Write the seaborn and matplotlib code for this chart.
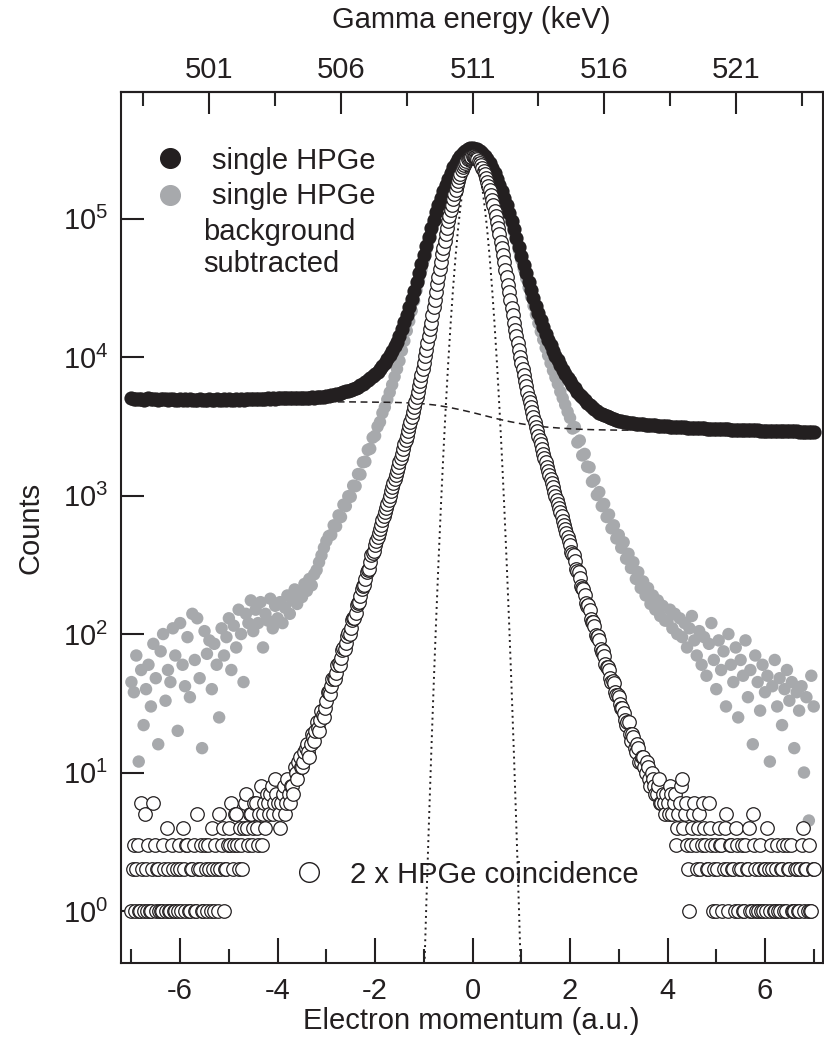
import numpy as np
import matplotlib
matplotlib.use("Agg")
import matplotlib.pyplot as plt
from matplotlib.ticker import FixedLocator, NullLocator, FixedFormatter
import seaborn as sns

# ---------------- data ----------------
P_START = -7.0      # first momentum bin (a.u.)
P_STEP = 0.05       # bin width (a.u.)

# single HPGe (black filled circles), counts per bin, p = -7.0 ... 7.0
single_counts = [
    5050, 4980, 5020, 4960, 5000, 4940, 4990, 5030, 4970, 4950,
    4990, 4930, 4970, 5010, 4950, 4900, 4960, 4980, 4920, 4940,
    4960, 4900, 4950, 4930, 4970, 4910, 4940, 4890, 4950, 4920,
    4900, 4940, 4960, 4910, 4930, 4950, 4890, 4920, 4960, 4930,
    4950, 4910, 4940, 4970, 4920, 4960, 4940, 4990, 4950, 4970,
    4990, 4960, 5000, 5020, 4980, 5010, 5030, 5000, 5040, 5020,
    5050, 5030, 5060, 5050, 5070, 5060, 5080, 5070, 5090, 5080,
    5100, 5090, 5110, 5100, 5120, 5110, 5130, 5150, 5170, 5190,
    5220, 5260, 5300, 5350, 5400, 5450, 5510, 5580, 5650, 5710,
    5780, 5880, 5990, 6120, 6260, 6420, 6600, 6800, 7020, 7270,
    7520, 7830, 8180, 8600, 9080, 9650, 10300, 11050, 11950, 12950,
    14100, 15850, 17800, 20200, 22900, 26300, 30200, 35100, 40700, 47300,
    55000, 63800, 74100, 85100, 97700, 110900, 125900, 141300, 158500, 175800,
    195000, 213800, 234400, 251200, 269200, 285100, 298500, 309000, 316200, 321400,
    323600, 321000, 316000, 308000, 298200, 285000, 268800, 252000, 233800, 214000,
    194200, 176000, 157600, 141000, 124900, 110000, 96600, 84000, 72850, 62700,
    53700, 46600, 40300, 35000, 30550, 26700, 23440, 20700, 18400, 16500,
    14790, 13400, 12160, 11100, 10230, 9480, 8710, 8130, 7590, 7080,
    6680, 6290, 5960, 5640, 5370, 5130, 4900, 4700, 4520, 4360,
    4220, 4090, 3980, 3890, 3800, 3740, 3670, 3610, 3550, 3510,
    3470, 3440, 3410, 3390, 3370, 3350, 3330, 3310, 3300, 3280,
    3270, 3255, 3240, 3230, 3220, 3210, 3200, 3190, 3180, 3170,
    3160, 3150, 3145, 3135, 3130, 3120, 3115, 3105, 3100, 3090,
    3085, 3080, 3070, 3065, 3060, 3055, 3050, 3045, 3040, 3035,
    3030, 3025, 3020, 3015, 3010, 3005, 3000, 3000, 2995, 2990,
    2985, 2980, 2975, 2970, 2965, 2960, 2960, 2955, 2950, 2950,
    2950, 2945, 2940, 2940, 2935, 2930, 2930, 2925, 2920, 2920,
    2915, 2910, 2910, 2905, 2900, 2900, 2895, 2890, 2890, 2885,
    2880,
]

# single HPGe, background subtracted (grey filled circles), same bins
bgsub_counts = [
    45, 38, 70, 12, 55, 22, 40, 60, 30, 85,
    48, 16, 75, 100, 33, 55, 45, 110, 70, 20,
    120, 60, 42, 95, 35, 140, 65, 130, 48, 15,
    105, 72, 90, 40, 85, 60, 25, 110, 70, 95,
    130, 55, 115, 80, 150, 100, 45, 140, 120, 175,
    105, 150, 120, 170, 80, 140, 125, 180, 110, 160,
    130, 170, 120, 155, 190, 140, 175, 210, 165, 200,
    185, 230, 205, 250, 225, 270, 290, 330, 370, 420,
    470, 510, 520, 610, 600, 720, 700, 860, 840, 990,
    980, 1180, 1170, 1430, 1420, 1740, 1760, 2140, 2180, 2620,
    2700, 3150, 3400, 3950, 4350, 4950, 5570, 6320, 7220, 8220,
    9400, 11140, 13100, 15500, 18200, 21600, 25550, 30400, 36100, 42700,
    50400, 59200, 69500, 80600, 93200, 106400, 121400, 136900, 154100, 171400,
    190650, 209500, 230100, 247000, 265000, 281000, 294400, 305000, 312100, 317300,
    319600, 317300, 312100, 305000, 294400, 281000, 265000, 247000, 230100, 209500,
    190650, 171400, 154100, 136900, 121400, 106400, 93200, 80600, 69500, 59200,
    50400, 43350, 37070, 31800, 27370, 23500, 20270, 17560, 15280, 13380,
    11660, 10280, 9050, 8000, 7140, 6400, 5630, 5060, 4530, 4030,
    3640, 3050, 3120, 2420, 2500, 1950, 2000, 1620, 1600, 1260,
    1300, 1010, 1060, 840, 870, 700, 730, 580, 610, 490,
    520, 420, 460, 350, 380, 300, 330, 250, 280, 215,
    240, 190, 215, 165, 190, 150, 175, 135, 160, 125,
    125, 150, 110, 140, 100, 130, 95, 120, 80, 110,
    135, 90, 70, 105, 60, 95, 50, 85, 120, 65,
    40, 90, 55, 75, 30, 100, 60, 45, 80, 25,
    65, 50, 90, 35, 55, 16, 70, 45, 28, 60,
    38, 50, 12, 42, 65, 30, 48, 22, 40, 55,
    33, 45, 15, 38, 28, 42, 10, 35, 4.5, 50,
    30,
]

# 2 x HPGe coincidence (open circles): bins p = -7.0 ... 7.0
coinc_counts = [
    1, 3, 2, 1, 6, 1, 2, 3, 1, 6,
    1, 2, 1, 3, 1, 2, 1, 2, 1, 1,
    2, 4, 1, 3, 1, 2, 1, 5, 2, 1,
    3, 1, 2, 4, 1, 2, 5, 3, 1, 2,
    4, 6, 3, 5, 2, 3, 4, 7, 3, 5,
    4, 6, 3, 8, 5, 4, 6, 7, 5, 9,
    6, 4, 7, 5, 9, 6, 8, 11, 9, 13,
    11, 14, 16, 13, 19, 17, 23, 20, 28, 25,
    33, 38, 42, 48, 52, 62, 67, 79, 86, 101,
    110, 130, 143, 168, 188, 221, 250, 290, 330, 383,
    437, 501, 575, 661, 759, 871, 1000, 1148, 1318, 1514,
    1738, 1995, 2344, 2692, 3162, 3715, 4365, 5129, 6166, 7413,
    9120, 11220, 14130, 17780, 22910, 29510, 38020, 48980, 61660, 77620,
    95500, 114800, 138000, 162200, 186200, 211300, 234400, 254100, 269200, 278600,
    281800, 278000, 268500, 253000, 233000, 210000, 185000, 161000, 137000, 114000,
    95000, 77000, 61500, 48500, 37800, 29300, 22800, 17700, 14100, 11200,
    9100, 7400, 6150, 5100, 4350, 3700, 3150, 2690, 2340, 1990,
    1740, 1510, 1320, 1150, 1000, 870, 760, 660, 575, 500,
    437, 380, 335, 285, 255, 215, 192, 160, 148, 122,
    114, 96, 90, 74, 70, 58, 55, 45, 44, 36,
    35, 29, 27, 22, 23, 17, 18, 14, 15, 12,
    13, 10, 11, 8, 9, 7, 8, 6, 7, 5,
    6, 8, 5, 7, 4, 6, 9, 5, 3, 1,
    4, 6, 2, 5, 3, 4, 2, 6, 3, 2,
    1, 4, 3, 2, 5, 1, 3, 2, 4, 1,
    2, 1, 3, 2, 1, 5, 2, 1, 3, 1,
    2, 4, 1, 2, 1, 3, 1, 2, 1, 3,
    2, 1, 1, 2, 1, 3, 1, 2, 3, 1,
    2,
]

# coincidence, the bins in between: p = -6.975 ... 6.975
coinc_mid_counts = [
    2, 1, 3, 1, 2, 5, 1, 1, 2, 3,
    2, 1, 1, 2, 4, 1, 3, 1, 2, 3,
    1, 2, 3, 1, 2, 3, 1, 2, 3, 1,
    2, 3, 1, 2, 3, 1, 2, 4, 2, 3,
    3, 2, 5, 3, 4, 2, 6, 4, 5, 3,
    6, 4, 5, 3, 6, 7, 5, 8, 6, 7,
    5, 6, 8, 6, 7, 8, 7, 10, 12, 11,
    12, 15, 14, 16, 18, 20, 21, 24, 26, 29,
    38, 37, 47, 47, 60, 60, 77, 78, 97, 100,
    126, 130, 162, 170, 213, 225, 282, 296, 370, 395,
    468, 537, 617, 708, 813, 933, 1072, 1230, 1413, 1622,
    1862, 2163, 2512, 2917, 3428, 4027, 4732, 5624, 6761, 8222,
    10120, 12590, 15850, 20180, 26000, 33500, 43150, 55260, 69180, 86100,
    104700, 125900, 149600, 174000, 198400, 222800, 244300, 261600, 274000, 280500,
    280500, 273500, 261000, 243000, 221500, 197500, 173000, 149000, 125000, 104000,
    85500, 68400, 54600, 42800, 33300, 25800, 20100, 15800, 12600, 10100,
    8200, 6750, 5600, 4710, 4010, 3410, 2910, 2510, 2160, 1860,
    1620, 1410, 1230, 1070, 933, 813, 708, 616, 536, 468,
    390, 372, 295, 281, 222, 212, 167, 161, 128, 123,
    99, 97, 78, 75, 61, 58, 48, 46, 38, 36,
    31, 29, 24, 23, 19, 19, 15, 16, 12, 13,
    11, 12, 9, 10, 8, 7, 9, 6, 6, 7,
    5, 7, 6, 3, 5, 8, 4, 6, 2, 3,
    5, 3, 4, 2, 6, 3, 2, 4, 1, 3,
    2, 3, 1, 4, 2, 3, 2, 1, 3, 2,
    3, 1, 2, 4, 1, 3, 1, 2, 1, 2,
    1, 2, 3, 1, 2, 1, 2, 3, 1, 2,
    3, 1, 2, 1, 2, 4, 2, 1, 1, 2,
]

# background estimate (dashed line)
bg_momentum = [-7.0, -6.75, -6.5, -6.25, -6.0, -5.75, -5.5, -5.25, -5.0, -4.75,
               -4.5, -4.25, -4.0, -3.75, -3.5, -3.25, -3.0, -2.75, -2.5, -2.25,
               -2.0, -1.75, -1.5, -1.25, -1.0, -0.75, -0.5, -0.25, 0.0, 0.25,
               0.5, 0.75, 1.0, 1.25, 1.5, 1.75, 2.0, 2.25, 2.5, 2.75,
               3.0, 3.25, 3.5, 3.75, 4.0, 4.25, 4.5, 4.75, 5.0, 5.25,
               5.5, 5.75, 6.0, 6.25, 6.5, 6.75, 7.0]
bg_counts = [4820, 4810, 4810, 4800, 4800, 4790, 4790, 4780, 4780, 4780,
             4770, 4770, 4770, 4760, 4760, 4760, 4750, 4750, 4750, 4740,
             4730, 4720, 4700, 4660, 4600, 4500, 4350, 4170, 3980, 3780,
             3590, 3430, 3300, 3200, 3130, 3080, 3040, 3010, 2990, 2980,
             2970, 2970, 2960, 2950, 2950, 2940, 2930, 2930, 2920, 2910,
             2900, 2900, 2890, 2880, 2870, 2860, 2850]

# detector resolution (dotted line)
res_momentum = [-1.05, -1.0, -0.95, -0.9, -0.85, -0.8, -0.75, -0.7, -0.65, -0.6,
                -0.55, -0.5, -0.45, -0.4, -0.35, -0.3, -0.25, -0.2, -0.15, -0.1,
                -0.05, 0.0, 0.05, 0.1, 0.15, 0.2, 0.25, 0.3, 0.35, 0.4,
                0.45, 0.5, 0.55, 0.6, 0.65, 0.7, 0.75, 0.8, 0.85, 0.9,
                0.95, 1.0, 1.05]
res_counts = [0.068, 0.28, 1.09, 3.9, 13.1, 41, 120, 327, 834, 1977,
              4390, 9080, 17500, 31480, 52970, 82990, 121300, 166000, 211300, 251200,
              278600, 288400, 278600, 251200, 211300, 166000, 121300, 82990, 52970, 31480,
              17500, 9080, 4390, 1977, 834, 327, 120, 41, 13.1, 3.9,
              1.09, 0.28, 0.068]

x_major_ticks = [-6, -4, -2, 0, 2, 4, 6]
x_minor_ticks = [-7, -5, -3, -1, 1, 3, 5, 7]
y_major_ticks = [1, 10, 100, 1000, 10000, 100000]
energy_major_ticks = [501, 506, 511, 516, 521]
energy_minor_ticks = [498.5, 503.5, 508.5, 513.5, 518.5, 523.5]
E0_KEV = 511.0
KEV_PER_AU = 1.85

legend_single = "single HPGe"
legend_bgsub = ["single HPGe", "background", "subtracted"]
legend_coinc = "2 x HPGe coincidence"


def grid(values, start=P_START):
    return np.round(start + P_STEP * np.arange(len(values)), 3)


def to_nan(values):
    a = np.asarray(values, dtype=float)
    a[a <= 0] = np.nan
    return a


coinc_p = np.concatenate([grid(coinc_counts), grid(coinc_mid_counts, P_START + P_STEP / 2)])
coinc_y = np.concatenate([to_nan(coinc_counts), to_nan(coinc_mid_counts)])
order = np.argsort(coinc_p, kind="stable")
coinc_p, coinc_y = coinc_p[order], coinc_y[order]

# ---------------- style ----------------
sns.set_style("ticks")
plt.rcParams["font.family"] = ["Liberation Sans", "DejaVu Sans"]
plt.rcParams["axes.unicode_minus"] = False
plt.rcParams["mathtext.default"] = "regular"

INK = "#231f20"
GREY = "#a7a9ac"
FS = 21

fig = plt.figure(figsize=(8.24, 10.51), dpi=100)
ax = fig.add_axes([0.14648, 0.08345, 0.8517, 0.82874])

sns.scatterplot(x=grid(bgsub_counts), y=to_nan(bgsub_counts), ax=ax, color=GREY,
                s=80, edgecolor="none", linewidth=0, zorder=2, legend=False)
sns.scatterplot(x=grid(single_counts), y=to_nan(single_counts), ax=ax, color=INK,
                s=105, edgecolor=INK, linewidth=0, zorder=3, legend=False)
sns.lineplot(x=bg_momentum, y=bg_counts, ax=ax, color=INK, linestyle=(0, (4.5, 3)),
             linewidth=1.1, zorder=4, legend=False)
sns.scatterplot(x=coinc_p, y=coinc_y, ax=ax, color="white",
                facecolor="white", edgecolor=INK, s=95, linewidth=0.9, zorder=5,
                legend=False)
sns.lineplot(x=res_momentum, y=res_counts, ax=ax, color=INK, linestyle=(0, (1, 2)),
             linewidth=1.4, zorder=6, legend=False)

ax.set_yscale("log")
ax.set_xlim(-7.22, 7.18)
ax.set_ylim(0.419, 8.18e5)

ax.xaxis.set_major_locator(FixedLocator(x_major_ticks))
ax.xaxis.set_minor_locator(FixedLocator(x_minor_ticks))
ax.yaxis.set_major_locator(FixedLocator(y_major_ticks))
ax.yaxis.set_major_formatter(FixedFormatter([r"10$^{%d}$" % k for k in range(6)]))
ax.yaxis.set_minor_locator(NullLocator())

for side in ["top", "right", "left", "bottom"]:
    ax.spines[side].set_visible(True)
    ax.spines[side].set_linewidth(1.5)
    ax.spines[side].set_color(INK)

ax.tick_params(axis="x", which="major", direction="in", length=18, width=1.5,
               pad=10, labelsize=FS, colors=INK, top=False)
ax.tick_params(axis="x", which="minor", direction="in", length=10, width=1.5, top=False)
ax.tick_params(axis="y", which="major", direction="in", length=16.5, width=1.5,
               pad=9, labelsize=FS, colors=INK, right=False)

ax.set_xlabel("Electron momentum (a.u.)", fontsize=FS, color=INK, labelpad=1)
ax.set_ylabel("Counts", fontsize=FS, color=INK, labelpad=13)

sec = ax.secondary_xaxis("top", functions=(lambda p: E0_KEV + KEV_PER_AU * p,
                                            lambda e: (e - E0_KEV) / KEV_PER_AU))
sec.xaxis.set_major_locator(FixedLocator(energy_major_ticks))
sec.xaxis.set_minor_locator(FixedLocator(energy_minor_ticks))
sec.xaxis.set_major_formatter(FixedFormatter([str(t) for t in energy_major_ticks]))
sec.tick_params(axis="x", which="major", direction="in", length=16, width=1.5,
                pad=6, labelsize=FS, colors=INK)
sec.tick_params(axis="x", which="minor", direction="in", length=10, width=1.5)
sec.spines["top"].set_linewidth(1.5)
sec.set_xlabel("Gamma energy (keV)", fontsize=FS, color=INK, labelpad=20)

# in-plot legend
ax.scatter([0.0702], [0.9246], s=200, color=INK, transform=ax.transAxes,
           clip_on=False, zorder=7)
ax.scatter([0.0702], [0.8821], s=200, color=GREY, transform=ax.transAxes,
           clip_on=False, zorder=7)
ax.text(0.1297, 0.9246, legend_single, transform=ax.transAxes, fontsize=FS,
        color=INK, ha="left", va="center_baseline")
ax.text(0.1297, 0.8844, legend_bgsub[0], transform=ax.transAxes, fontsize=FS,
        color=INK, ha="left", va="center_baseline")
ax.text(0.1173, 0.8431, legend_bgsub[1], transform=ax.transAxes, fontsize=FS,
        color=INK, ha="left", va="center_baseline")
ax.text(0.1173, 0.8063, legend_bgsub[2], transform=ax.transAxes, fontsize=FS,
        color=INK, ha="left", va="center_baseline")
ax.scatter([0.2683], [0.1048], s=200, facecolor="white", edgecolor=INK,
           linewidth=1.0, transform=ax.transAxes, clip_on=False, zorder=7)
ax.text(0.3267, 0.1048, legend_coinc, transform=ax.transAxes, fontsize=FS,
        color=INK, ha="left", va="center_baseline")

fig.savefig("out.png", dpi=100)
